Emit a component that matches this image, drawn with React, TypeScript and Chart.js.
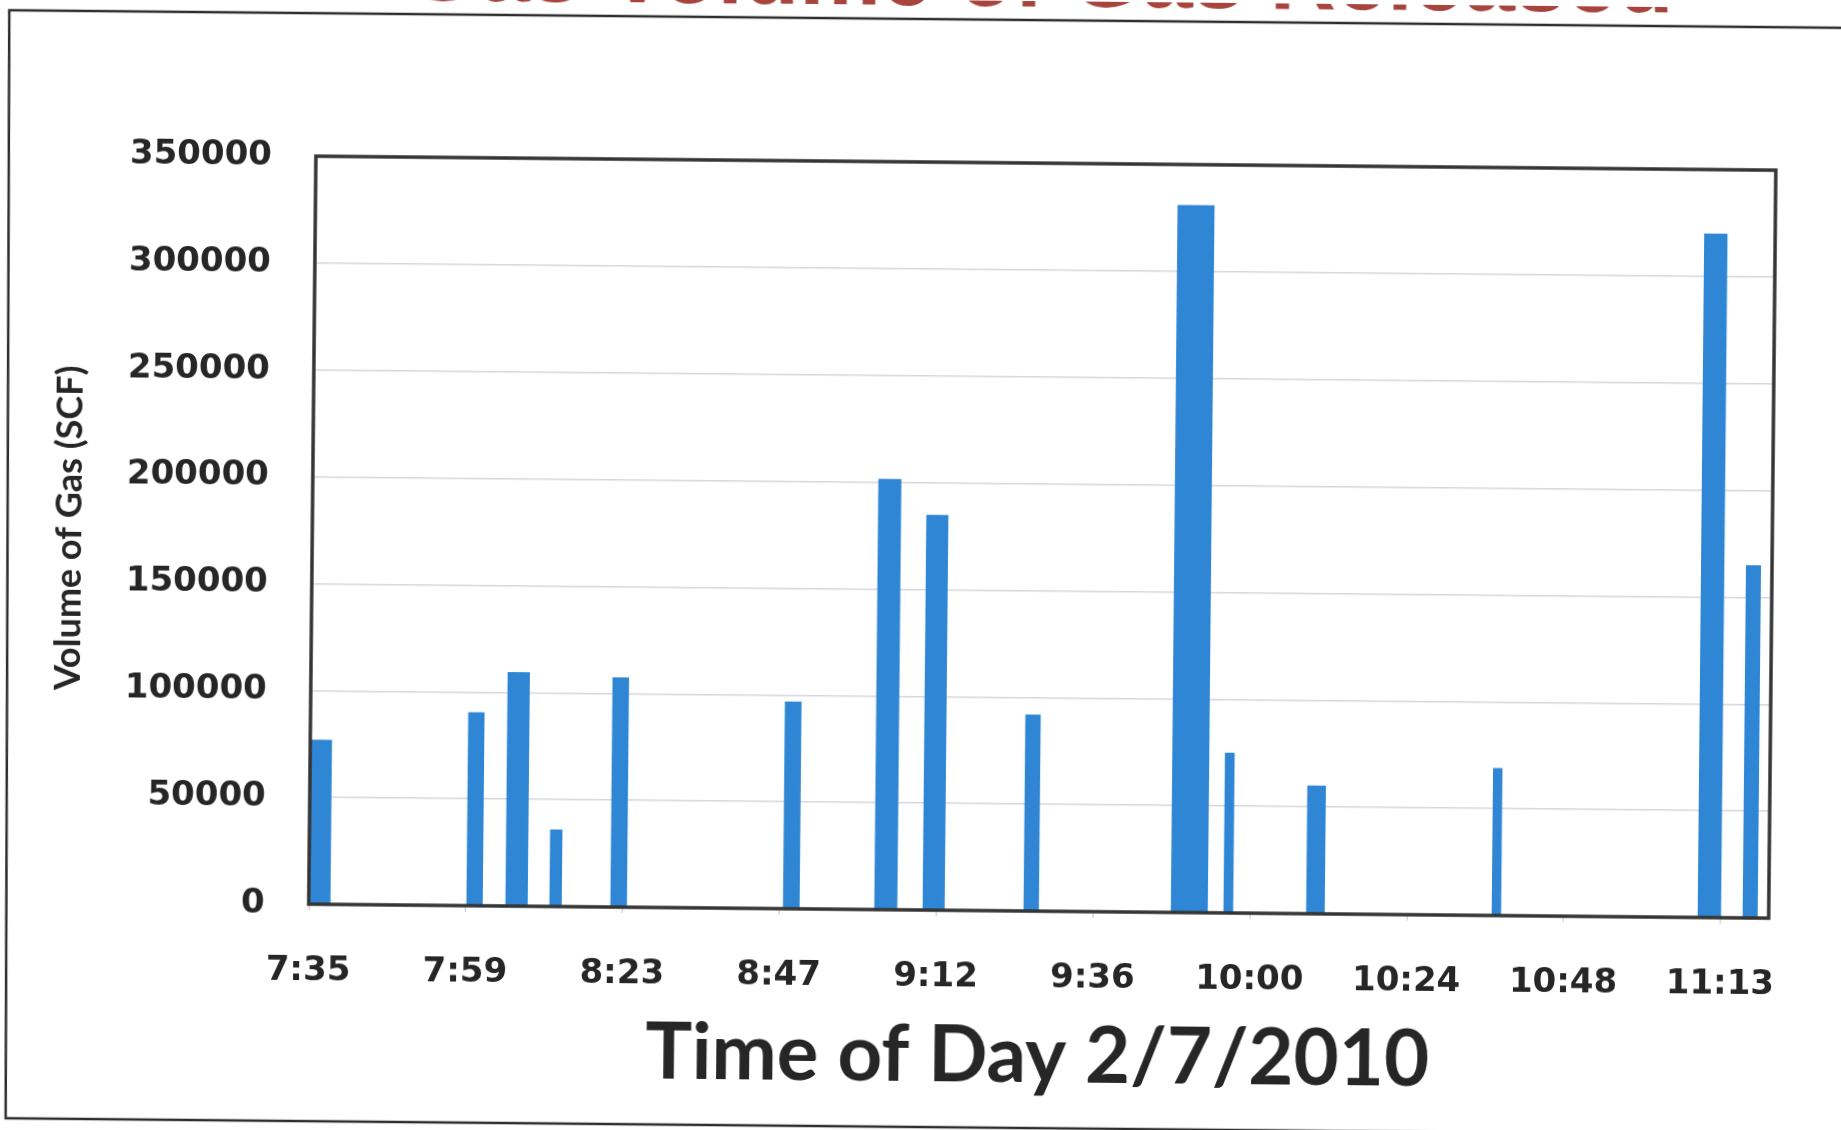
import React, { useEffect, useRef } from "react";
import { Chart, registerables } from "chart.js";

Chart.register(...registerables);

// ---------------- data ----------------
const chartTitle = "Gas Volume of Gas Released";
const xAxisTitle = "Time of Day 2/7/2010";
const yAxisTitle = "Volume of Gas (SCF)";

// each release event: start time, end time, volume (SCF)
const eventStart = [
  "7:35:00", "7:59:40", "8:05:41", "8:12:28", "8:21:52",
  "8:48:29", "9:02:34", "9:10:01", "9:25:35", "9:48:18",
  "9:56:25", "10:09:10", "10:37:47", "11:09:33", "11:16:29",
];
const eventEnd = [
  "7:38:42", "8:02:11", "8:09:07", "8:14:22", "8:24:25",
  "8:51:03", "9:06:07", "9:13:25", "9:27:57", "9:54:00",
  "9:57:55", "10:12:02", "10:39:14", "11:13:09", "11:18:48",
];
const volumeSCF = [
  77000, 90500, 109500, 36000, 107500,
  97000, 201500, 185000, 92000, 331000,
  75000, 60000, 69000, 320000, 165000,
];

// axis (Excel-style time axis)
const xAxisMin = "7:35:21";
const xAxisMax = "11:20:30";
const xMajorUnitMinutes = 24.192;
const xTickLabels = ["7:35", "7:59", "8:23", "8:47", "9:12", "9:36", "10:00", "10:24", "10:48", "11:13"];
const yTickValues = [0, 50000, 100000, 150000, 200000, 250000, 300000, 350000];

// ---------------- helpers ----------------
const toMinutes = (t: string) => {
  const [h, m, s] = t.split(":").map(Number);
  return h * 60 + m + (s || 0) / 60;
};

const TEXT = "#262626";
const BAR = "rgb(46,134,212)";

const decorPlugin = {
  id: "decor",
  afterDraw(chart: any) {
    const { ctx, chartArea } = chart;
    ctx.save();
    // plot frame
    ctx.strokeStyle = "#353535";
    ctx.lineWidth = 3.5;
    ctx.strokeRect(chartArea.left, chartArea.top, chartArea.right - chartArea.left, chartArea.bottom - chartArea.top);
    // outer chart frame (right side beyond page)
    ctx.strokeStyle = "#2e2e2e";
    ctx.lineWidth = 2.5;
    ctx.beginPath();
    ctx.moveTo(1900, 19);
    ctx.lineTo(4, 19);
    ctx.lineTo(11, 1127);
    ctx.lineTo(1900, 1127);
    ctx.stroke();
    // title (mostly cut off at top of page)
    ctx.fillStyle = "#a8443e";
    ctx.font = "bold 92px 'Liberation Sans', Arial, sans-serif";
    ctx.textAlign = "center";
    ctx.textBaseline = "alphabetic";
    ctx.fillText(chartTitle, 1035, 5);
    ctx.restore();
  },
};

export default function App() {
  const ref = useRef<HTMLCanvasElement | null>(null);

  useEffect(() => {
    if (!ref.current) return;
    const xMin = toMinutes(xAxisMin);
    const xMax = toMinutes(xAxisMax);

    const points: { x: number; y: number }[] = [];
    volumeSCF.forEach((v, i) => {
      const s = toMinutes(eventStart[i]);
      const e = toMinutes(eventEnd[i]);
      points.push({ x: s, y: 0 }, { x: s, y: v }, { x: e, y: v }, { x: e, y: 0 });
    });

    const chart = new Chart(ref.current, {
      type: "line",
      data: {
        datasets: [
          {
            label: "Volume of Gas (SCF)",
            data: points,
            fill: "origin",
            backgroundColor: BAR,
            borderColor: "rgba(0,0,0,0)",
            borderWidth: 0,
            pointRadius: 0,
            pointHoverRadius: 0,
            tension: 0,
          },
        ],
      },
      options: {
        responsive: false,
        animation: false,
        events: [],
        layout: { padding: { left: 0, top: 162, right: 69, bottom: 27 } },
        plugins: {
          legend: { display: false },
          tooltip: { enabled: false },
          title: { display: false },
        },
        scales: {
          x: {
            type: "linear",
            min: xMin,
            max: xMax,
            afterFit: (s: any) => {
              s.height = 193;
            },
            afterBuildTicks: (s: any) => {
              s.ticks = xTickLabels.map((_, i) => ({ value: xMin + i * xMajorUnitMinutes }));
            },
            ticks: {
              autoSkip: false,
              maxRotation: 0,
              padding: 41,
              color: TEXT,
              font: { family: "'DejaVu Sans', Verdana, sans-serif", size: 34, weight: "bold" },
              callback: (_v: any, i: number) => xTickLabels[i],
            },
            grid: {
              drawOnChartArea: false,
              drawTicks: true,
              tickLength: 6,
              color: "#c4c4c4",
              lineWidth: 1,
            },
            border: { display: false },
            title: {
              display: true,
              text: xAxisTitle,
              color: TEXT,
              font: { family: "Lato, 'Open Sans', sans-serif", size: 78, weight: "bold", lineHeight: 1.2 },
              padding: { top: 0, bottom: 0 },
            },
          },
          y: {
            type: "linear",
            min: 0,
            max: 350000,
            afterFit: (s: any) => {
              s.width = 312;
            },
            afterBuildTicks: (s: any) => {
              s.ticks = yTickValues.map((v) => ({ value: v }));
            },
            ticks: {
              padding: 44,
              color: TEXT,
              font: { family: "'DejaVu Sans', Verdana, sans-serif", size: 34, weight: "bold" },
              callback: (v: any) => String(v),
            },
            grid: {
              color: "#d6d6e0",
              lineWidth: 1.5,
              drawTicks: false,
            },
            border: { display: false },
            title: {
              display: true,
              text: yAxisTitle,
              color: TEXT,
              font: { family: "Lato, 'Open Sans', sans-serif", size: 36, weight: "bold", lineHeight: 1.2 },
              padding: { top: 48, bottom: 0 },
            },
          },
        },
      },
      plugins: [decorPlugin],
    });
    return () => chart.destroy();
  }, []);

  return (
    <div
      style={{
        position: "fixed",
        left: 0,
        top: 0,
        width: 1841,
        height: 1130,
        background: "#fff",
        transform: "rotate(0.55deg)",
        transformOrigin: "920px 565px",
      }}
    >
      <canvas ref={ref} width={1841} height={1130} style={{ width: 1841, height: 1130, display: "block" }} />
    </div>
  );
}
